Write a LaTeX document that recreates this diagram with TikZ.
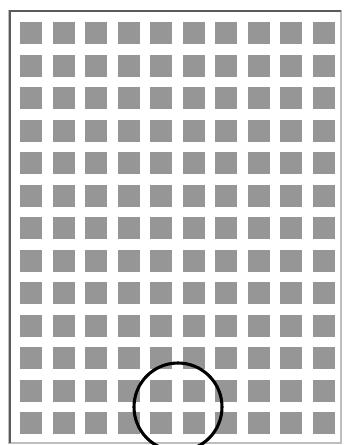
\documentclass[tikz,border=0pt]{standalone}
\usepackage{xcolor}
\definecolor{cellgray}{RGB}{150, 150, 150}
\definecolor{framegray}{RGB}{90, 90, 90}
\usetikzlibrary{positioning}

\begin{document}
\begin{tikzpicture}[
  x=0.25mm, y=-0.25mm,
  cell/.style={rectangle, fill=cellgray, draw=none, inner sep=0pt,
               minimum width=5.5mm, minimum height=5.5mm, anchor=north west},
  lens/.style={draw=black, line width=2.2pt},
]
% Page area
\useasboundingbox (0,0) rectangle (344,445);
\clip (0,0) rectangle (344,445);
\fill[white] (0,0) rectangle (344,445);

% Sheet outline
\draw[framegray!40, line width=0.8pt] (9,11) rectangle (341,443);
\draw[framegray, line width=1.6pt] (10,443) -- (10,11) -- (341,11);

% Grid of cells
\foreach \col in {0,...,9}
  \foreach \row in {0,...,12}
    \node[cell] (sq-\col-\row) at ({20+32.5*\col},{22+32.5*\row}) {};

% Magnifier ring
\draw[lens] (178,407) circle (44);
\end{tikzpicture}
\end{document}
